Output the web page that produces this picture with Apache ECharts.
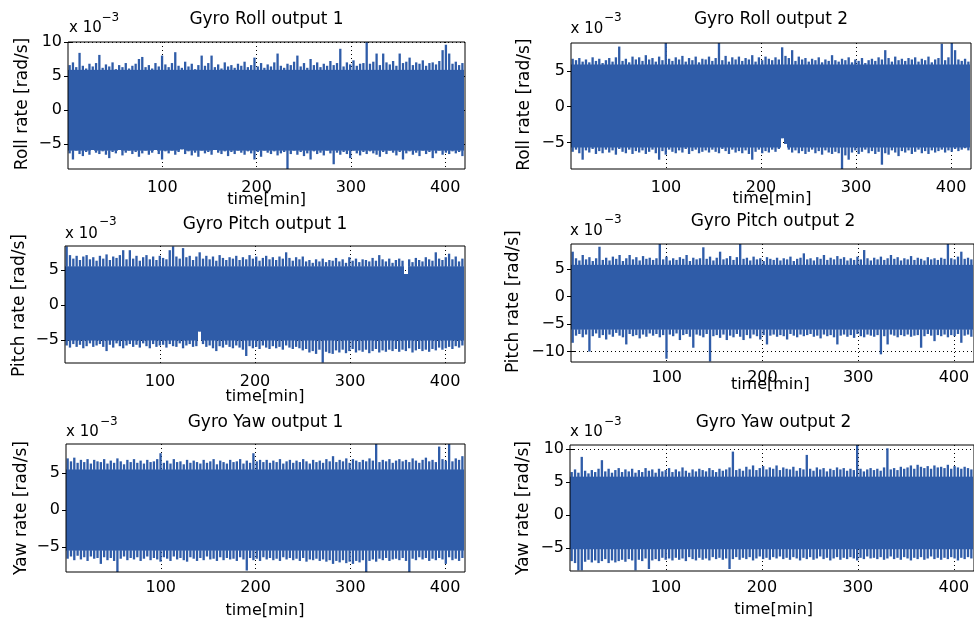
<!DOCTYPE html>
<html><head><meta charset="utf-8">
<script src="https://cdn.jsdelivr.net/npm/echarts@6/dist/echarts.min.js"></script>
<style>html,body{margin:0;padding:0;background:#fff}#c{width:974px;height:623px}</style>
</head><body><div id="c"></div>
<script>
// Bin width (minutes) of the envelope samples
const BIN = 3.5;
const xTicks = [100, 200, 300, 400];

const titles = ['Gyro Roll output 1','Gyro Roll output 2','Gyro Pitch output 1','Gyro Pitch output 2','Gyro Yaw output 1','Gyro Yaw output 2'];
const yNames = ['Roll rate [rad/s]','Roll rate [rad/s]','Pitch rate [rad/s]','Pitch rate [rad/s]','Yaw rate [rad/s]','Yaw rate [rad/s]'];
const yTicks = [[-5,0,5,10],[-5,0,5],[-5,0,5],[-10,-5,0,5],[-5,0,5],[-5,0,5,10]];
const yMin = [-8.7,-8.7,-8.3,-11.9,-8.4,-8.5];
const yMax = [10,8.9,8.4,9.6,8.95,10.6];

// dense (solid) part of the noise band, x 10^-3 rad/s
const coreHi = [5.9, 5.9, 5.5, 5.8, 5.5, 5.8];
const coreLo = [-6.0, -5.7, -5.1, -6.0, -5.5, -5.2];

// upper / lower envelopes (x 10^-3 rad/s), one value per 3.5-min bin
const roll1Hi = [
6.6,7.0,6.3,8.4,6.5,6.1,6.8,6.4,6.9,8.1,
6.2,6.7,6.4,7.0,6.0,6.6,6.3,6.9,6.1,6.5,
6.8,7.5,7.8,6.3,6.6,6.1,6.9,6.4,8.0,6.7,
6.3,6.9,8.5,6.5,6.2,7.1,6.4,6.8,6.0,6.6,
8.0,6.5,6.9,8.0,6.3,6.7,6.1,7.0,6.4,6.6,
6.2,6.8,6.5,7.1,6.3,6.6,7.7,6.4,6.9,6.2,
6.7,6.4,7.0,8.3,6.5,6.2,6.8,6.6,7.1,8.0,
6.4,6.9,6.2,7.5,6.6,7.0,6.3,6.8,6.5,7.2,
6.6,6.9,9.0,6.4,7.0,6.7,7.3,6.5,6.8,6.9,
10.0,6.8,7.1,8.3,6.6,8.3,7.0,6.7,7.2,6.5,
8.3,6.9,7.1,7.7,6.6,7.0,6.8,7.3,6.5,6.9,
7.0,6.7,7.2,8.8,9.6,8.3,6.8,7.1,6.6,6.9];
const roll1Lo = [
-6.4,-7.3,-6.0,-6.5,-6.8,-6.2,-6.6,-5.9,-6.3,-6.5,
-6.1,-6.6,-7.1,-6.2,-6.4,-5.9,-6.7,-6.3,-6.0,-6.5,
-6.2,-6.9,-6.4,-6.0,-6.6,-6.3,-5.9,-6.5,-7.3,-6.1,
-6.4,-6.0,-6.6,-6.2,-5.8,-6.5,-6.1,-6.7,-6.3,-6.9,
-6.0,-6.4,-6.2,-6.6,-5.9,-6.3,-6.5,-6.1,-6.8,-6.2,
-6.5,-6.0,-6.3,-6.6,-6.1,-6.4,-7.3,-6.2,-6.9,-6.0,
-6.3,-6.5,-6.1,-6.7,-6.4,-6.2,-8.7,-6.5,-6.0,-6.6,
-6.2,-6.8,-6.4,-7.3,-6.1,-6.5,-6.3,-6.7,-6.0,-6.4,
-8.0,-6.3,-6.6,-6.2,-6.5,-7.1,-6.0,-6.4,-6.7,-6.2,
-6.5,-6.1,-6.4,-6.6,-6.9,-6.2,-6.5,-6.0,-6.3,-6.7,
-6.2,-7.3,-6.4,-6.1,-6.6,-6.3,-6.8,-6.0,-6.5,-6.2,
-7.1,-6.4,-6.0,-6.6,-6.3,-6.5,-6.1,-6.4,-6.2,-6.8];
const roll2Hi = [
6.7,6.5,6.8,6.3,6.6,6.2,6.9,6.4,6.7,6.1,
6.5,6.8,6.3,6.9,8.4,6.4,6.7,6.2,7.0,6.6,
6.9,6.4,7.2,6.6,6.8,6.3,7.0,6.5,8.9,6.7,
6.4,6.9,6.6,7.1,6.3,6.8,6.5,7.0,6.2,6.7,
6.6,7.0,6.4,6.8,8.9,6.5,7.1,6.3,6.9,6.6,
7.0,6.4,6.8,6.6,7.2,6.3,6.9,6.5,7.0,6.7,
6.5,6.9,6.6,8.3,7.1,6.8,7.9,6.4,7.0,6.6,
6.8,6.3,6.7,6.5,6.9,6.2,6.6,6.4,7.2,6.5,
6.3,6.7,6.5,6.9,6.2,6.6,6.4,6.8,6.1,6.5,
6.7,6.4,6.9,6.6,7.9,6.8,6.3,7.0,6.5,6.7,
6.4,6.8,6.6,6.9,6.3,6.7,6.5,7.0,6.2,6.6,
6.8,8.8,6.5,6.9,8.9,7.9,6.6,6.4,6.7,6.3];
const roll2Lo = [
-6.3,-6.0,-6.5,-7.4,-6.1,-6.4,-5.9,-6.6,-6.2,-6.5,
-6.0,-6.4,-6.1,-6.7,-5.9,-6.3,-6.5,-6.0,-6.6,-6.2,
-6.4,-6.1,-6.6,-6.3,-6.0,-6.5,-7.4,-6.2,-6.7,-6.0,
-6.3,-6.5,-6.1,-6.4,-5.9,-6.6,-6.2,-6.0,-6.5,-6.3,
-6.1,-6.4,-6.0,-6.3,-6.5,-5.9,-6.2,-6.6,-6.0,-6.4,
-6.2,-6.5,-6.1,-6.6,-7.4,-6.3,-6.0,-6.5,-6.2,-6.4,
-6.0,-6.3,-5.9,-4.4,-5.2,-6.0,-6.4,-6.1,-6.5,-6.2,
-6.6,-6.3,-6.0,-6.5,-6.2,-6.7,-6.1,-6.4,-6.6,-6.3,
-6.5,-8.7,-6.8,-7.4,-6.4,-6.1,-6.6,-6.3,-6.0,-6.5,
-6.2,-6.6,-6.3,-8.1,-6.5,-6.7,-6.1,-6.4,-6.9,-6.2,
-6.4,-6.1,-6.6,-6.3,-6.0,-6.5,-6.2,-6.6,-6.1,-6.4,
-6.2,-6.0,-6.4,-6.1,-6.3,-5.9,-6.2,-6.0,-5.8,-6.1];
const pitch1Hi = [
8.35,7.1,6.6,7.0,6.4,6.9,7.1,6.5,6.8,6.3,
7.0,6.6,7.2,6.4,6.9,6.7,7.1,7.8,6.5,7.8,
6.6,7.0,6.3,6.8,7.1,6.5,6.9,6.4,7.0,6.7,
6.5,7.8,8.35,6.9,6.6,8.1,6.8,7.0,6.4,6.9,
7.5,6.6,7.0,6.5,6.9,6.3,7.1,6.7,6.4,6.8,
6.6,7.0,6.4,6.8,6.5,7.1,6.6,6.9,6.3,6.7,
7.0,6.5,6.8,6.4,6.9,6.6,7.5,6.7,6.3,6.8,
6.5,6.9,6.2,6.4,6.0,6.5,6.2,6.6,6.1,6.4,
6.3,6.7,6.2,6.5,6.0,6.8,6.3,6.6,6.1,6.5,
6.4,6.2,6.7,6.3,7.1,6.5,6.2,6.6,6.0,6.4,
6.6,6.3,4.4,6.5,6.1,6.7,6.4,6.2,6.8,6.5,
6.3,7.5,6.6,6.4,6.8,7.3,6.5,6.9,6.2,6.6];
const pitch1Lo = [
-5.8,-6.1,-5.6,-6.0,-5.7,-6.2,-5.9,-5.5,-6.0,-5.8,
-5.6,-6.0,-6.6,-5.7,-6.1,-5.5,-5.9,-6.2,-5.8,-5.6,
-6.0,-5.7,-6.1,-5.5,-5.9,-6.2,-5.6,-6.0,-5.8,-5.7,
-6.1,-5.6,-5.9,-6.0,-5.5,-6.2,-5.8,-5.6,-6.0,-5.9,
-3.8,-5.6,-6.0,-5.8,-6.2,-6.6,-5.9,-6.1,-5.7,-6.0,
-6.2,-5.8,-6.1,-6.4,-7.3,-5.9,-6.2,-6.0,-6.3,-5.8,
-6.1,-6.3,-5.9,-6.2,-6.0,-6.4,-5.8,-6.1,-6.3,-6.0,
-6.2,-6.5,-6.3,-6.8,-6.6,-7.0,-6.4,-8.25,-6.7,-6.9,
-7.0,-6.5,-6.8,-6.4,-6.9,-6.6,-6.3,-6.8,-6.5,-6.7,
-6.4,-6.9,-6.6,-6.3,-6.8,-6.5,-6.7,-6.4,-6.6,-6.3,
-6.7,-6.4,-6.6,-6.2,-6.8,-6.5,-6.3,-6.6,-6.4,-6.7,
-6.3,-6.5,-6.1,-6.4,-6.2,-6.0,-6.3,-5.9,-6.1,-5.8];
const pitch2Hi = [
8.2,7.0,6.6,7.6,6.8,7.2,6.5,7.0,9.1,6.7,
7.1,6.6,7.3,6.9,7.6,6.5,7.0,7.6,6.8,7.2,
6.6,7.4,6.9,7.1,6.7,7.0,9.6,6.8,7.3,6.6,
7.0,6.7,7.2,6.9,7.6,6.5,7.1,6.8,7.0,9.0,
6.9,7.3,6.6,7.1,8.2,6.8,7.0,7.4,6.7,7.2,
9.6,6.9,7.1,6.6,7.3,6.8,7.0,6.5,7.2,6.9,
6.7,7.1,6.6,7.0,6.8,7.3,6.5,6.9,7.1,7.9,
6.8,7.0,6.6,7.2,6.9,7.6,6.7,7.1,6.8,7.4,
6.9,7.2,6.6,7.0,6.7,7.3,6.8,8.5,7.0,6.6,
7.1,6.8,7.3,6.7,7.0,7.6,6.9,7.2,6.6,7.0,
6.8,7.4,6.7,7.1,6.9,6.6,7.2,6.8,7.0,6.7,
7.1,6.9,9.6,7.0,6.8,7.3,8.2,6.9,7.1,6.8];
const pitch2Lo = [
-8.4,-7.1,-6.8,-7.4,-6.9,-10.0,-7.2,-6.7,-7.5,-7.0,
-7.8,-6.9,-7.3,-6.6,-7.1,-7.4,-8.7,-6.8,-7.2,-7.0,
-7.6,-6.9,-7.3,-6.7,-7.1,-6.8,-7.4,-7.0,-11.3,-6.9,
-7.2,-6.7,-7.9,-7.0,-6.8,-7.3,-9.3,-6.9,-7.1,-7.4,
-6.8,-11.8,-7.2,-7.0,-7.5,-6.9,-7.9,-7.1,-7.4,-6.8,
-7.3,-7.9,-7.0,-7.6,-6.9,-7.2,-7.8,-7.0,-8.7,-7.1,
-6.9,-7.3,-7.0,-7.2,-7.8,-6.8,-7.1,-7.4,-6.9,-7.2,
-7.0,-6.8,-7.3,-7.1,-7.6,-6.9,-7.2,-7.0,-7.4,-8.7,
-7.1,-6.9,-7.3,-7.0,-7.5,-6.8,-7.2,-7.4,-6.9,-7.1,
-7.3,-7.0,-10.5,-7.2,-8.7,-6.9,-7.1,-7.4,-7.0,-7.2,
-6.9,-7.3,-7.1,-7.0,-9.3,-7.2,-6.8,-7.1,-8.1,-7.0,
-7.2,-6.9,-7.4,-7.0,-7.2,-6.8,-8.4,-7.1,-6.9,-7.3];
const yaw1Hi = [
7.0,6.6,7.1,6.4,6.8,6.5,6.9,6.3,6.8,6.6,
6.5,6.9,6.3,6.7,6.4,7.0,6.6,6.2,6.8,6.5,
6.9,6.4,6.7,6.3,6.8,6.5,6.6,6.9,7.7,6.4,
6.7,6.3,6.9,6.5,6.6,6.2,6.8,6.4,6.7,6.5,
6.3,6.8,6.4,6.6,6.9,6.2,6.7,6.5,6.3,6.8,
6.5,6.6,6.9,6.3,6.7,6.4,7.7,6.6,6.8,6.5,
6.8,6.4,6.7,6.5,6.9,6.3,6.6,6.8,6.4,6.7,
6.5,6.9,6.6,6.3,6.8,6.5,6.7,6.4,6.9,6.6,
7.3,6.5,6.8,6.6,7.0,6.4,6.9,6.7,6.5,6.8,
6.6,7.0,6.7,8.95,6.5,6.8,6.6,6.9,6.4,6.7,
6.9,6.6,6.8,6.5,7.0,6.7,6.4,6.8,7.1,6.6,
6.8,6.5,8.6,6.9,6.7,8.95,6.6,7.0,6.8,7.3];
const yaw1Lo = [
-6.6,-6.3,-6.8,-6.2,-6.7,-6.4,-6.9,-6.3,-6.6,-6.5,
-7.3,-6.4,-6.8,-6.5,-6.9,-8.4,-6.6,-6.3,-6.8,-6.5,
-6.7,-6.4,-6.9,-6.6,-6.3,-6.8,-6.5,-6.7,-7.0,-6.4,
-6.6,-6.9,-6.3,-6.7,-6.5,-6.8,-7.0,-6.4,-6.6,-6.9,
-6.5,-6.8,-6.3,-6.7,-6.6,-6.9,-6.4,-6.8,-6.5,-6.7,
-6.6,-6.9,-6.4,-6.7,-8.2,-6.5,-6.8,-6.6,-6.9,-6.4,
-6.7,-6.5,-6.8,-6.6,-6.9,-6.4,-6.7,-6.5,-6.8,-6.6,
-6.9,-6.5,-7.0,-6.7,-6.8,-6.6,-6.9,-6.7,-7.0,-6.8,
-7.3,-6.9,-7.1,-6.8,-7.2,-7.0,-7.3,-6.9,-7.1,-6.8,
-8.4,-6.9,-6.7,-7.0,-6.6,-6.8,-6.5,-6.9,-6.7,-6.6,
-6.8,-6.5,-6.9,-8.4,-6.6,-6.8,-6.4,-6.7,-6.5,-6.9,
-6.6,-6.8,-6.5,-6.7,-7.3,-6.4,-6.8,-6.6,-6.9,-6.5];
const yaw2Hi = [
6.5,6.9,6.4,8.8,6.7,6.3,6.8,6.5,7.0,8.3,
6.6,7.0,6.4,6.8,7.1,6.5,6.9,6.6,7.0,6.4,
6.8,6.5,7.1,6.7,6.9,6.4,7.0,6.6,6.8,7.1,
6.5,6.9,6.6,7.2,6.7,6.4,6.9,6.6,7.0,6.8,
6.6,7.1,6.8,6.5,7.0,6.7,6.9,7.2,9.6,6.8,
7.0,6.7,7.3,6.9,7.5,6.8,7.1,7.4,6.9,7.2,
7.0,7.5,6.8,7.2,7.0,6.9,7.3,6.7,7.1,6.9,
9.1,7.0,6.7,7.2,6.9,7.1,6.6,7.0,6.8,7.2,
6.9,7.1,6.7,7.0,6.8,10.6,7.0,6.6,6.9,7.1,
6.8,7.0,6.7,7.2,10.1,6.9,7.1,6.8,7.3,7.0,
7.2,7.5,7.0,7.6,7.3,7.1,7.4,7.0,7.5,7.2,
7.3,7.1,7.6,7.0,7.4,7.2,7.0,7.3,7.1,6.9];
const yaw2Lo = [
-7.0,-7.3,-8.4,-8.4,-7.1,-6.8,-7.2,-6.9,-7.3,-7.0,
-6.7,-7.3,-6.9,-7.2,-7.0,-6.8,-7.1,-6.7,-6.9,-8.4,
-6.8,-7.0,-6.6,-8.2,-6.9,-6.7,-7.0,-6.5,-6.8,-6.6,
-6.9,-6.5,-6.8,-6.6,-7.0,-6.4,-6.7,-6.9,-6.5,-6.8,
-6.6,-6.9,-6.4,-6.7,-6.5,-6.8,-6.6,-8.2,-6.7,-6.4,
-6.8,-6.5,-6.7,-6.4,-6.9,-6.6,-6.3,-6.7,-6.5,-6.8,
-6.4,-6.6,-6.3,-6.7,-6.5,-6.8,-6.4,-6.6,-6.9,-6.5,
-6.7,-6.4,-6.8,-6.6,-6.3,-6.7,-6.5,-6.9,-6.6,-6.4,
-6.8,-6.5,-6.7,-6.4,-6.6,-6.9,-6.5,-6.7,-6.3,-6.6,
-6.5,-6.7,-6.4,-6.8,-6.6,-6.3,-6.7,-6.5,-6.8,-6.4,
-6.6,-6.9,-6.5,-6.7,-6.4,-6.8,-6.6,-6.3,-6.7,-6.5,
-6.8,-6.5,-6.7,-6.4,-6.6,-6.9,-6.5,-6.7,-6.4,-6.6];

const highs = [roll1Hi, roll2Hi, pitch1Hi, pitch2Hi, yaw1Hi, yaw2Hi];
const lows  = [roll1Lo, roll2Lo, pitch1Lo, pitch2Lo, yaw1Lo, yaw2Lo];

// ---------------- layout (pixels) ----------------
const BLUE = '#2f5ca8';
const FONT = 'DejaVu Sans';
const grids = [
  {left:68, top:42, width:397, height:127, lm:11},
  {left:571, top:43, width:400, height:126, lm:11},
  {left:65, top:246, width:400, height:117, lm:11},
  {left:571, top:244, width:404, height:118, lm:8},
  {left:66, top:444, width:399, height:128, lm:8},
  {left:570, top:445, width:407, height:126, lm:9}
];
const titlePos = [[266.5,20],[771,20],[265,225],[773,222],[265.5,423],[773.5,423]];
const expPos = [[69,28.3,101.5,18.3],[570.5,29.3,604,18.3],[65,234.3,99,221.7],[570,231,604,220],[66,431.7,100,421.7],[570,431.7,604,421.7]];
const yNamePos = [[22.5,104],[525,104.7],[20,305.5],[513.5,301.7],[21.3,508],[524,508]];
const xNamePos = [[266.7,200],[772,199.3],[265,396.7],[770.3,385],[265,611],[773.7,610]];

const minus = v => String(v).replace('-', '\u2212');
const opt = {animation:false, backgroundColor:'#fff', grid:[], xAxis:[], yAxis:[], series:[], graphic:[]};

function makeRenderer(i) {
  return (params, api) => {
    const t = api.value(0), lo = api.value(1), hi = api.value(2);
    const cs = params.coordSys;
    const box = {x:cs.x, y:cs.y, width:cs.width, height:cs.height};
    const w = api.size([BIN, 0])[0];
    const xc = api.coord([t, 0])[0];
    const x0 = Math.round(xc - w / 2), x1 = Math.round(xc + w / 2);
    const cHi = Math.min(hi, coreHi[i]), cLo = Math.max(lo, coreLo[i]);
    const yHi = api.coord([t, hi])[1], yLo = api.coord([t, lo])[1];
    const ycHi = api.coord([t, cHi])[1], ycLo = api.coord([t, cLo])[1];
    const sw = w * 0.7;
    const rects = [
      {x:x0, y:ycHi, width:x1 - x0, height:ycLo - ycHi},
      {x:xc - sw / 2, y:yHi, width:sw, height:ycHi - yHi + 0.5},
      {x:xc - sw / 2, y:ycLo - 0.5, width:sw, height:yLo - ycLo + 0.5}
    ];
    const children = [];
    rects.forEach(r => {
      if (r.height <= 0) return;
      const s = echarts.graphic.clipRectByRect(r, box);
      if (s) children.push({type:'rect', shape:s, style:{fill:BLUE}});
    });
    return {type:'group', children:children};
  };
}

grids.forEach((g, i) => {
  opt.grid.push({left:g.left, top:g.top, width:g.width, height:g.height, show:true,
    borderColor:'#000', borderWidth:1, backgroundColor:'transparent', z:5});
  const tick = {show:true, inside:true, length:4, lineStyle:{color:'#000'}};
  opt.xAxis.push({type:'value', gridIndex:i, min:0, max:421, position:'bottom',
    axisLine:{show:false},
    axisTick:Object.assign({customValues:xTicks}, tick),
    axisLabel:{customValues:xTicks, color:'#000', fontFamily:FONT, fontSize:16, margin:g.lm},
    splitLine:{show:true, lineStyle:{color:'#000', type:[1,3], width:1}}});
  opt.xAxis.push({type:'value', gridIndex:i, min:0, max:421, position:'top',
    axisLine:{show:false}, axisTick:Object.assign({customValues:xTicks}, tick),
    axisLabel:{show:false}, splitLine:{show:false}});
  opt.yAxis.push({type:'value', gridIndex:i, min:yMin[i], max:yMax[i], position:'left',
    axisLine:{show:false},
    axisTick:Object.assign({customValues:yTicks[i]}, tick),
    axisLabel:{customValues:yTicks[i], color:'#000', fontFamily:FONT, fontSize:16, margin:6, formatter:minus},
    splitLine:{show:true, lineStyle:{color:'#000', type:[1,3], width:1}}});
  opt.yAxis.push({type:'value', gridIndex:i, min:yMin[i], max:yMax[i], position:'right',
    axisLine:{show:false}, axisTick:Object.assign({customValues:yTicks[i]}, tick),
    axisLabel:{show:false}, splitLine:{show:false}});

  const data = highs[i].map((h, k) => [BIN * k + BIN / 2, lows[i][k], h]);
  opt.series.push({type:'custom', xAxisIndex:2*i, yAxisIndex:2*i, z:2,
    encode:{x:0, y:[1,2]}, data:data, renderItem:makeRenderer(i)});

  const tp = titlePos[i], ep = expPos[i], yp = yNamePos[i], xp = xNamePos[i];
  opt.graphic.push(
    {type:'text', x:tp[0], y:tp[1], style:{text:titles[i], font:'17px "DejaVu Sans"', fill:'#000', align:'center', verticalAlign:'middle'}},
    {type:'text', x:ep[0], y:ep[1], style:{text:'x 10', font:'15px "DejaVu Sans"', fill:'#000', align:'left', verticalAlign:'middle'}},
    {type:'text', x:ep[2], y:ep[3], style:{text:'\u22123', font:'12px "DejaVu Sans"', fill:'#000', align:'left', verticalAlign:'middle'}},
    {type:'text', x:yp[0], y:yp[1], rotation:Math.PI/2, style:{text:yNames[i], font:'17px "DejaVu Sans"', fill:'#000', align:'center', verticalAlign:'middle'}},
    {type:'text', x:xp[0], y:xp[1], style:{text:'time[min]', font:'16px "DejaVu Sans"', fill:'#000', align:'center', verticalAlign:'middle'}}
  );
});

const chart = echarts.init(document.getElementById('c'), null, {renderer:'canvas'});
chart.setOption(opt);
</script>
</body></html>
